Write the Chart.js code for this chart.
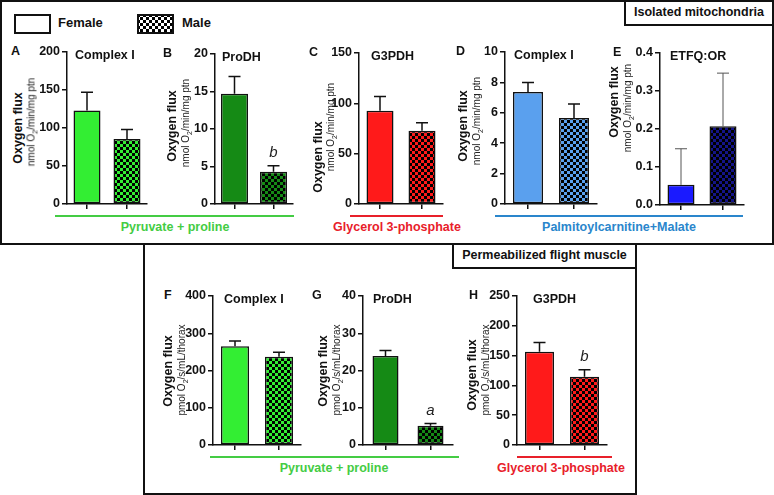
<!DOCTYPE html>
<html>
<head>
<meta charset="utf-8">
<script src="https://cdn.jsdelivr.net/npm/chart.js@4.4.1/dist/chart.umd.min.js"></script>
<style>
  body { margin: 0; background: #fff; font-family: "Liberation Sans", Arial, sans-serif; }
  #fig { position: relative; width: 774px; height: 495px; overflow: hidden; }
  .box { position: absolute; border: 2px solid #111; box-sizing: border-box; background: #fff; }
  .lbl { position: absolute; font-weight: bold; color: #111; white-space: nowrap; }
  .ttl { position: absolute; font-weight: bold; font-size: 12px; color: #111; white-space: nowrap; }
  .plet { position: absolute; font-weight: bold; font-size: 12.5px; color: #111; }
  .yt { position: absolute; transform: translate(-50%, -50%) rotate(-90deg); white-space: nowrap; color: #111; }
  .yt.main { font-weight: bold; font-size: 12.5px; }
  .yt.sub { font-size: 10px; color: #222; }
  .yt sub { font-size: 7px; }
  .grp { position: absolute; font-weight: bold; font-size: 12.5px; white-space: nowrap; transform: translateX(-50%); }
  .gline { position: absolute; height: 2px; }
  canvas { position: absolute; }
</style>
</head>
<body>
<div id="fig">
  <div class="box" style="left:0;top:0;width:774px;height:245px;"></div>
  <div class="box" style="left:143px;top:243px;width:494px;height:252px;"></div>
  <div class="box" style="left:624px;top:0;width:150px;height:26px;"></div>
  <div class="box" style="left:452px;top:243px;width:185px;height:26px;"></div>
  <div class="lbl" style="left:625px;top:5px;width:148px;text-align:center;font-size:12.5px;">Isolated mitochondria</div>
  <div class="lbl" style="left:453px;top:248px;width:183px;text-align:center;font-size:12.5px;">Permeabilized flight muscle</div>

  <!-- legend -->
  <div class="box" style="left:14px;top:14px;width:37px;height:20px;"></div>
  <div class="lbl" style="left:58px;top:15px;font-size:13px;">Female</div>
  <canvas id="legMale" width="37" height="20" style="left:137px;top:14px;"></canvas>
  <div class="lbl" style="left:182px;top:15px;font-size:13px;">Male</div>
</div>

<script>
// data (mean and upward SEM bar)
const groups = ['Female', 'Male'];

const meanA = [123, 85.5];   const semA = [24, 12.5];    // Complex I, isolated
const meanB = [14.7, 4.3];   const semB = [2.3, 0.8];    // ProDH, isolated
const meanC = [92.7, 72.8];  const semC = [14, 8];       // G3PDH, isolated
const meanD = [7.37, 5.66];  const semD = [0.63, 0.92];  // Complex I, palmitoylcarnitine
const meanE = [0.053, 0.207]; const semE = [0.095, 0.14]; // ETFQ:OR
const meanF = [265, 237];    const semF = [14, 12];      // Complex I, fibres
const meanG = [23.9, 5.2];   const semG = [1.5, 0.6];    // ProDH, fibres
const meanH = [156.5, 114.6]; const semH = [15.5, 11.5]; // G3PDH, fibres

const lettersB = ['', 'b'];
const lettersG = ['', 'a'];
const lettersH = ['', 'b'];

const GREEN = '#33ee33', DKGREEN = '#158a15', RED = '#ff1a1a';
const LTBLUE = '#5aa0ee', BLUE = '#1a1aff', NAVY = '#14148a';

const fig = document.getElementById('fig');
const yW = 40, padTop = 10, xH = 10;

function checker(ctx, color) {
  const p = document.createElement('canvas');
  p.width = 6; p.height = 6;
  const c = p.getContext('2d');
  c.fillStyle = color; c.fillRect(0, 0, 6, 6);
  c.fillStyle = '#000';
  c.fillRect(0, 0, 3, 3); c.fillRect(3, 3, 3, 3);
  return ctx.createPattern(p, 'repeat');
}

// legend swatch
(function () {
  const cv = document.getElementById('legMale');
  const ctx = cv.getContext('2d');
  ctx.fillStyle = checker(ctx, '#ffffff');
  ctx.fillRect(0, 0, 37, 20);
  ctx.strokeStyle = '#111'; ctx.lineWidth = 2;
  ctx.strokeRect(1, 1, 35, 18);
})();

const errPlugin = {
  id: 'errbars',
  afterDatasetsDraw(chart, args, opts) {
    const ctx = chart.ctx;
    const y = chart.scales.y;
    const meta = chart.getDatasetMeta(0);
    const vals = chart.data.datasets[0].data;
    ctx.save();
    meta.data.forEach((bar, i) => {
      const top = y.getPixelForValue(vals[i] + opts.errs[i]);
      ctx.strokeStyle = opts.color;
      ctx.lineWidth = opts.width;
      ctx.beginPath();
      ctx.moveTo(bar.x, bar.y);
      ctx.lineTo(bar.x, top);
      ctx.moveTo(bar.x - 6, top);
      ctx.lineTo(bar.x + 6, top);
      ctx.stroke();
      const l = opts.letters ? opts.letters[i] : '';
      if (l) {
        ctx.fillStyle = '#222';
        ctx.font = 'italic 15px "Liberation Sans", Arial, sans-serif';
        ctx.textAlign = 'center';
        ctx.textBaseline = 'middle';
        ctx.fillText(l, bar.x, top - 13);
      }
    });
    ctx.restore();
  }
};

function panel(p) {
  const cv = document.createElement('canvas');
  const h = padTop + (p.bottom - p.top) + xH;
  cv.width = yW + p.w + 6;
  cv.height = h;
  cv.style.left = (p.axisX - yW) + 'px';
  cv.style.top = (p.top - padTop) + 'px';
  fig.appendChild(cv);
  const ctx = cv.getContext('2d');
  const axisLine = { color: '#111', width: 1.5 };
  const tickGrid = { drawOnChartArea: false, drawTicks: true, tickLength: 5, color: '#111', lineWidth: 1.5 };

  new Chart(ctx, {
    type: 'bar',
    data: {
      labels: groups,
      datasets: [{
        data: p.values,
        backgroundColor: [p.color, checker(ctx, p.male || p.color)],
        borderColor: '#111',
        borderWidth: 1.5,
        borderSkipped: false,
        barPercentage: p.bar / (p.w / 2),
        categoryPercentage: 1
      }]
    },
    options: {
      responsive: false, animation: false, events: [],
      layout: { padding: { top: padTop, right: 6, left: 0, bottom: 0 } },
      plugins: {
        legend: { display: false }, tooltip: { enabled: false },
        errbars: { errs: p.errs, color: p.errColor || '#111', width: p.errWidth || 1.5, letters: p.letters }
      },
      scales: {
        x: {
          grid: Object.assign({}, tickGrid, { offset: false }),
          border: axisLine,
          ticks: { callback: () => '', padding: 0 },
          afterFit: s => { s.height = xH; }
        },
        y: {
          min: 0, max: p.max,
          grid: tickGrid,
          border: axisLine,
          ticks: {
            stepSize: p.step, padding: 2, color: '#111',
            font: { family: '"Liberation Sans", Arial, sans-serif', weight: 'bold', size: 12.5 },
            callback: v => p.dec ? v.toFixed(p.dec) : v
          },
          afterFit: s => { s.width = yW; }
        }
      }
    },
    plugins: [errPlugin]
  });

  const add = (cls, html, style) => {
    const d = document.createElement('div');
    d.className = cls; d.innerHTML = html;
    Object.assign(d.style, style);
    fig.appendChild(d);
  };
  add('plet', p.letter, { left: p.letterX + 'px', top: (p.top - 8) + 'px' });
  add('ttl', p.title, { left: p.titleX + 'px', top: (p.top - 4) + 'px', fontSize: (p.titleSize || 12.5) + 'px' });
  add('yt main', 'Oxygen flux', { left: p.ytX + 'px', top: p.ytY + 'px' });
  add('yt sub', p.unit, { left: (p.ytX + (p.subDx || 14)) + 'px', top: p.ysY + 'px' });
}

const unitIso = 'nmol O<sub>2</sub>/min/mg ptn';
const unitFib = 'pmol O<sub>2</sub>/s/mL/thorax';

panel({ letter: 'A', letterX: 11, title: 'Complex I', titleX: 75, axisX: 67, top: 52, bottom: 204, w: 80, bar: 27,
  max: 200, step: 50, values: meanA, errs: semA, color: GREEN, ytX: 18, ytY: 128, ysY: 122, unit: unitIso });
panel({ letter: 'B', letterX: 163, title: 'ProDH', titleX: 222, axisX: 215, top: 54, bottom: 204, w: 78, bar: 27,
  max: 20, step: 5, values: meanB, errs: semB, color: DKGREEN, letters: lettersB, ytX: 172, ytY: 126, ysY: 123, unit: unitIso });
panel({ letter: 'C', letterX: 309, title: 'G3PDH', titleX: 371, axisX: 359, top: 53, bottom: 204, w: 84, bar: 27,
  max: 150, step: 50, values: meanC, errs: semC, color: RED, ytX: 318, subDx: 13, ytY: 157, ysY: 127, unit: unitIso });
panel({ letter: 'D', letterX: 456, title: 'Complex I', titleX: 514, axisX: 505, top: 52, bottom: 204, w: 92, bar: 30,
  max: 10, step: 2, values: meanD, errs: semD, color: LTBLUE, ytX: 463, ytY: 126, ysY: 121, unit: unitIso });
panel({ letter: 'E', letterX: 613, title: 'ETFQ:OR', titleX: 670, axisX: 660, top: 53, bottom: 205, w: 84, bar: 27,
  max: 0.4, step: 0.1, dec: 1, values: meanE, errs: semE, color: BLUE, male: NAVY, errColor: '#555', errWidth: 1,
  ytX: 614, ytY: 102, ysY: 108, unit: unitIso });

panel({ letter: 'F', letterX: 164, title: 'Complex I', titleX: 224, axisX: 213, top: 296, bottom: 445, w: 88, bar: 28,
  max: 400, step: 100, values: meanF, errs: semF, color: GREEN, ytX: 168, ytY: 371, ysY: 370, unit: unitFib });
panel({ letter: 'G', letterX: 312, title: 'ProDH', titleX: 373, axisX: 363, top: 296, bottom: 445, w: 90, bar: 26,
  max: 40, step: 10, values: meanG, errs: semG, color: DKGREEN, letters: lettersG, ytX: 323, ytY: 371, ysY: 370, unit: unitFib });
panel({ letter: 'H', letterX: 469, title: 'G3PDH', titleX: 533, axisX: 517, top: 296, bottom: 445, w: 90, bar: 29,
  max: 250, step: 50, values: meanH, errs: semH, color: RED, letters: lettersH, ytX: 472, ytY: 375, ysY: 370, unit: unitFib });

// substrate brackets
function bracket(x1, x2, y, color, text, tx) {
  const l = document.createElement('div');
  l.className = 'gline';
  Object.assign(l.style, { left: x1 + 'px', top: y + 'px', width: (x2 - x1) + 'px', background: color });
  fig.appendChild(l);
  const t = document.createElement('div');
  t.className = 'grp'; t.textContent = text;
  Object.assign(t.style, { left: tx + 'px', top: (y + 5) + 'px', color: color });
  fig.appendChild(t);
}
bracket(55, 294, 215, '#44cc44', 'Pyruvate + proline', 175);
bracket(350, 443, 215, '#e8202a', 'Glycerol 3-phosphate', 397);
bracket(495, 743, 215, '#2a86cc', 'Palmitoylcarnitine+Malate', 619);
bracket(210, 459, 456, '#44cc44', 'Pyruvate + proline', 334);
bracket(517, 612, 456, '#e8202a', 'Glycerol 3-phosphate', 561);
</script>
</body>
</html>
